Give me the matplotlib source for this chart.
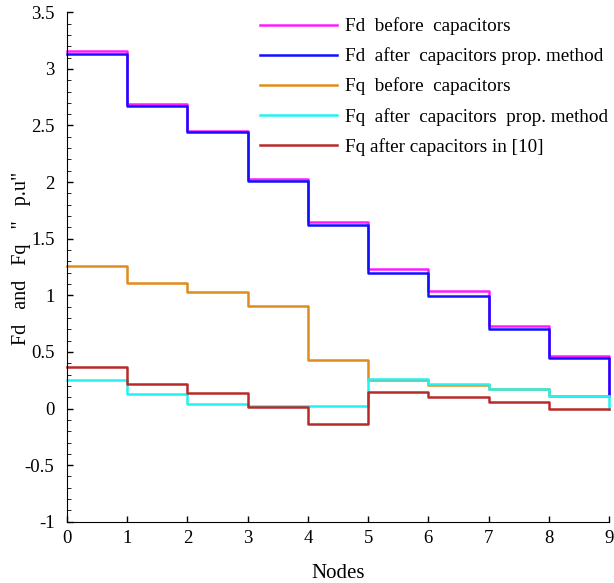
import numpy as np
import matplotlib
matplotlib.use('Agg')
import matplotlib.pyplot as plt
from matplotlib.ticker import MultipleLocator

plt.rcParams['font.family'] = ['Liberation Serif', 'DejaVu Serif']

nodes = np.arange(10)
# value held from node i to node i+1 (last value is where the line ends at node 9)
fd_before = [3.16, 2.69, 2.45, 2.03, 1.65, 1.235, 1.04, 0.73, 0.465, 0.115]
fd_after = [3.13, 2.67, 2.44, 2.01, 1.62, 1.195, 0.995, 0.70, 0.45, 0.115]
fq_before = [1.26, 1.11, 1.03, 0.905, 0.43, 0.25, 0.21, 0.17, 0.115, 0.115]
fq_after = [0.25, 0.125, 0.04, 0.025, 0.025, 0.265, 0.215, 0.175, 0.115, 0.0]
fq_ref10 = [0.365, 0.215, 0.135, 0.015, -0.14, 0.145, 0.105, 0.06, 0.0, 0.0]

labels = ['Fd  before  capacitors',
          'Fd  after  capacitors prop. method',
          'Fq  before  capacitors',
          'Fq  after  capacitors  prop. method',
          'Fq after capacitors in [10]']
colors = ['#ff1aff', '#1010ff', '#e08c1c', '#22f2f2', '#b82a2a']
series = [fd_before, fd_after, fq_before, fq_after, fq_ref10]

fig = plt.figure(figsize=(6.14, 5.83), dpi=100)
ax = fig.add_axes([0.109, 0.105, 0.883, 0.874])

for s, c, lab in zip(series, colors, labels):
    ax.plot(nodes, s, drawstyle='steps-post', color=c, lw=1.8, label=lab, clip_on=False)

ax.set_xlim(0, 9)
ax.set_ylim(-1, 3.5)
ax.xaxis.set_major_locator(MultipleLocator(1))
ax.yaxis.set_major_locator(MultipleLocator(0.5))
ax.yaxis.set_minor_locator(MultipleLocator(0.1))
ax.yaxis.set_major_formatter(plt.FuncFormatter(lambda v, p: ('%g' % v)))
ax.spines['top'].set_visible(False)
ax.spines['right'].set_visible(False)
ax.tick_params(direction='in', labelsize=13.5, length=4, width=1)
ax.tick_params(which='minor', direction='in', length=3)
ax.tick_params(axis='x', pad=6)
ax.tick_params(axis='y', pad=9)

ax.set_xlabel('Nodes', fontsize=15, labelpad=12)
ax.set_ylabel('Fd   and   Fq   "   p.u"', fontsize=14.5)
ax.yaxis.set_label_coords(-0.066, 0.516)

ax.legend(loc='upper left', frameon=False, fontsize=13.8, handlelength=4.0,
          handletextpad=0.46, labelspacing=0.64, borderpad=0, borderaxespad=0,
          bbox_to_anchor=(0.356, 0.99))

fig.savefig('out.png', dpi=100)
